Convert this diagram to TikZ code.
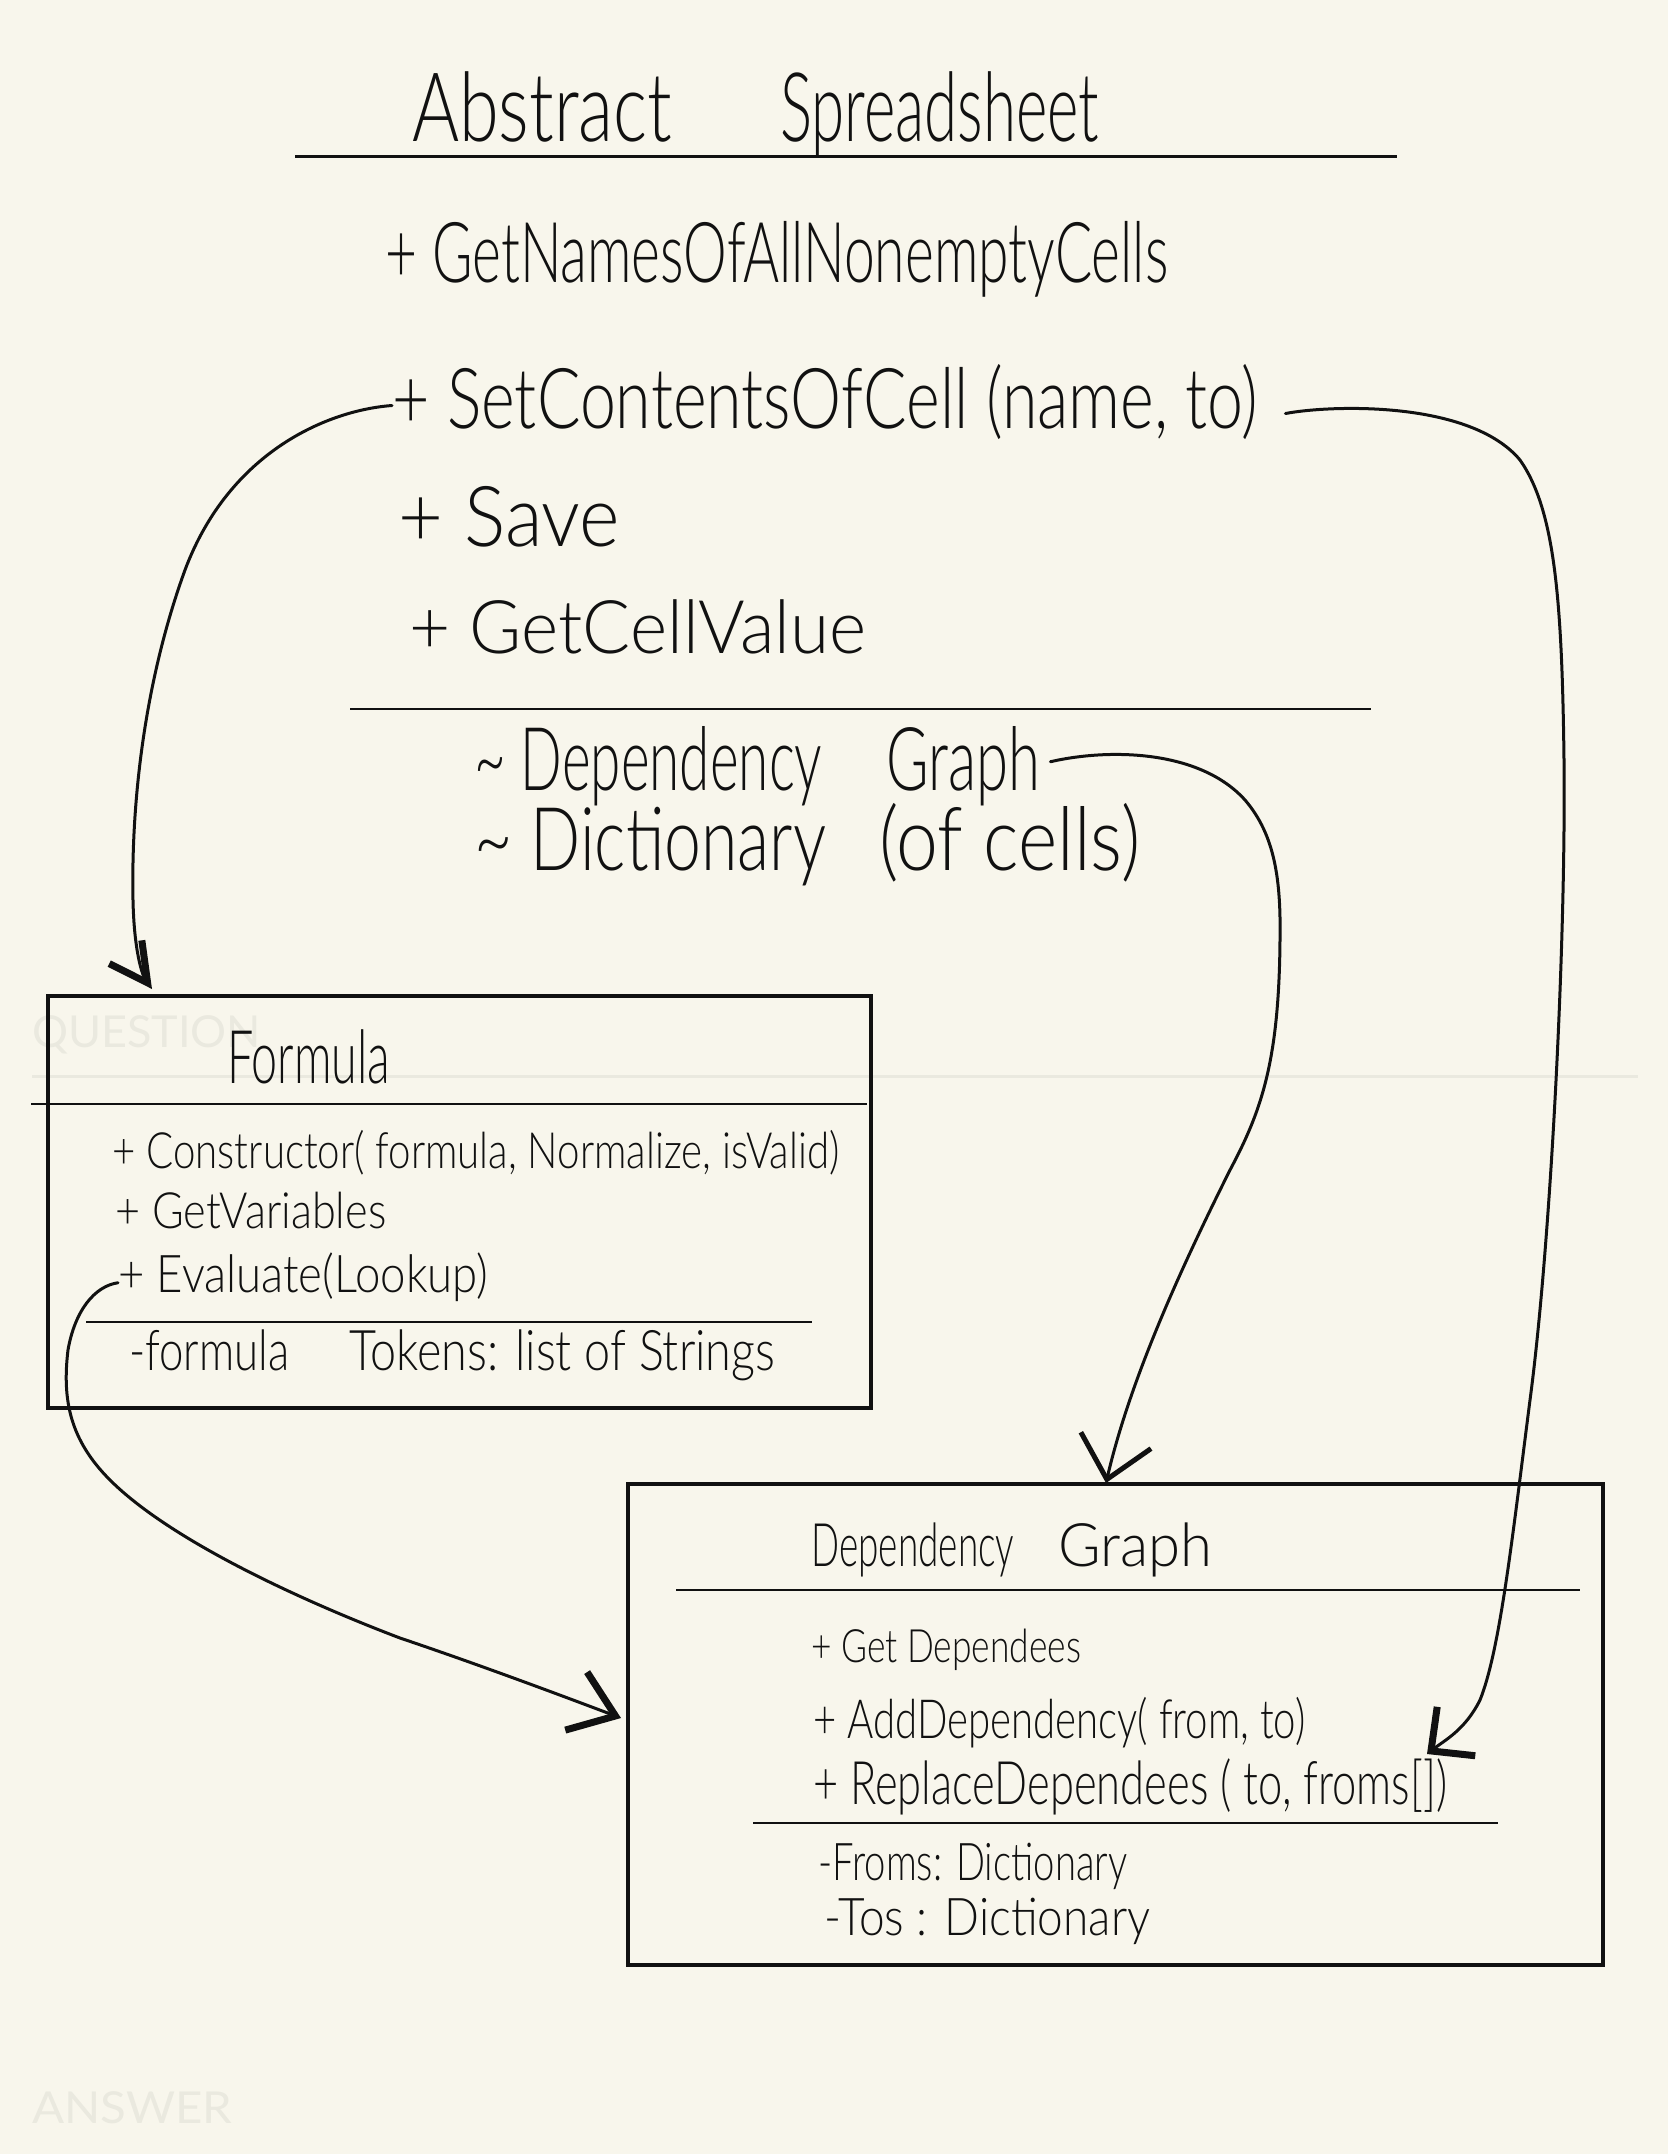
\documentclass[tikz,border=0pt]{standalone}
\usepackage{graphicx}
\usepackage{fontspec}
\setmainfont{Lato}
\suppressfontnotfounderror=1
\def\handname{Lato}
\font\probeA="Lato Light" at 10pt
\ifx\probeA\nullfont
  \font\probeB="Fira Sans Light" at 10pt
  \ifx\probeB\nullfont
    \font\probeC="Open Sans Light" at 10pt
    \ifx\probeC\nullfont
      \font\probeD="DejaVu Sans ExtraLight" at 10pt
      \ifx\probeD\nullfont\else\def\handname{DejaVu Sans ExtraLight}\fi
    \else\def\handname{Open Sans Light}\fi
  \else\def\handname{Fira Sans Light}\fi
\else\def\handname{Lato Light}\fi
\suppressfontnotfounderror=0
\expandafter\newfontfamily\expandafter\handfont\expandafter{\handname}
\usetikzlibrary{arrows.meta}
\definecolor{paper}{RGB}{248,246,236}
\definecolor{ghost}{RGB}{234,233,223}
\definecolor{ink}{RGB}{17,17,17}
\newcommand\fitwidth[3]{\resizebox{#1pt}{\height}{\handfont\fontsize{#2}{#2}\selectfont #3}}
\newcommand\plainfit[3]{\resizebox{#1pt}{\height}{\fontsize{#2}{#2}\selectfont #3}}
\begin{document}
\begin{tikzpicture}[x=1pt,y=-1pt,
  txt/.style={anchor=base west,inner sep=0pt,text=ink},
  wm/.style={anchor=base west,inner sep=0pt,text=ghost},
  umlbox/.style={draw=ink,line width=3.5pt,inner sep=0pt},
  sepline/.style={draw=ink,line width=2.5pt},
  conn/.style={draw=ink,line width=3pt,line cap=round,line join=round}]
% page
\fill[paper] (0,0) rectangle (1668,2154);
\useasboundingbox (0,0) rectangle (1668,2154);
% watermark
\node[wm] (qmark) at (32,1047) {\plainfit{229}{44}{QUESTION}};
\node[wm] (amark) at (32,2123) {\plainfit{200}{44}{ANSWER}};
\draw[ghost,line width=3pt] (32,1076) -- (1638,1076);

% Abstract Spreadsheet
\node[txt] (title) at (412,142) {\fitwidth{260}{96}{Abstract}\hspace{108pt}\fitwidth{319}{96}{Spreadsheet}};
\draw[ink,line width=3pt] (295,157) -- (1397,157);
\node[txt] (getnames) at (385,282) {\fitwidth{783}{84}{+ GetNamesOfAllNonemptyCells}};
\node[txt] (setc) at (392,428) {\fitwidth{866}{84}{+ SetContentsOfCell (name, to)}};
\node[txt] (save) at (398,546) {\fitwidth{222}{84}{+ Save}};
\node[txt] (getval) at (409,653) {\fitwidth{457}{74}{+ GetCellValue}};
\draw[sepline] (350,709) -- (1371,709);
\node[txt] (dgref) at (474,790) {\fitwidth{348}{88}{\textasciitilde{} Dependency}\hspace{64pt}\fitwidth{154}{88}{Graph}};
\node[txt] (dict) at (474,870) {\fitwidth{352}{88}{\textasciitilde{} Dictionary}\hspace{53pt}\fitwidth{261}{88}{(of cells)}};

% Formula box
\node[umlbox,minimum width=823pt,minimum height=412pt] (formula) at (459.5,1202) {};
\node[txt] (ftitle) at (227,1083) {\fitwidth{163}{74}{Formula}};
\draw[sepline] (31,1104) -- (867,1104);
\node[txt] (ctor) at (112,1168) {\fitwidth{727}{50}{+ Constructor( formula, Normalize, isValid)}};
\node[txt] (getvars) at (115,1228) {\fitwidth{271}{50}{+ GetVariables}};
\node[txt] (eval) at (118,1292) {\fitwidth{370}{52}{+ Evaluate(Lookup)}};
\draw[sepline] (86,1322) -- (812,1322);
\node[txt] (tokens) at (129,1370) {\fitwidth{160}{56}{-formula}\hspace{60pt}\fitwidth{426}{56}{Tokens: list of Strings}};

% Dependency Graph box
\node[umlbox,minimum width=975pt,minimum height=481pt] (dg) at (1115.5,1724.5) {};
\node[txt] (dgtitle) at (811,1566) {\fitwidth{203}{60}{Dependency}\hspace{44pt}\fitwidth{154}{60}{Graph}};
\draw[sepline] (676,1590) -- (1580,1590);
\node[txt] (getdep) at (811,1662) {\fitwidth{270}{46}{+ Get Dependees}};
\node[txt] (adddep) at (813,1738) {\fitwidth{492}{54}{+ AddDependency( from, to)}};
\node[txt] (repdep) at (813,1804) {\fitwidth{634}{60}{+ ReplaceDependees ( to, froms[])}};
\draw[sepline] (753,1823) -- (1498,1823);
\node[txt] (froms) at (818,1880) {\fitwidth{309}{52}{-Froms: Dictionary}};
\node[txt] (tos) at (824,1935) {\fitwidth{326}{52}{-Tos : Dictionary}};

% arrow tips
\coordinate (tipF) at (152,989);
\coordinate (tipA) at (1427,1754);
\coordinate (tipD) at (1106,1483);
\coordinate (tipE) at (621,1718);

% connectors
\draw[conn,-{Straight Barb[length=38pt,width=40pt,line width'=7pt]}]
  ([yshift=-4pt]setc.west) .. controls (330,410) and (230,450) .. (185,570)
  .. controls (145,680) and (131,800) .. (133,900)
  .. controls (134,950) and (142,975) .. (tipF);
\draw[conn,-{Straight Barb[length=32pt,width=62pt,line width'=7pt]}]
  ([xshift=27pt,yshift=-12pt]setc.east) .. controls (1330,405) and (1470,400) .. (1520,460)
  .. controls (1555,510) and (1562,600) .. (1564,760)
  .. controls (1566,950) and (1550,1250) .. (1530,1400)
  .. controls (1512,1540) and (1500,1650) .. (1480,1700)
  .. controls (1465,1730) and (1445,1740) .. (tipA);
\draw[conn,-{Straight Barb[length=40pt,width=72pt,line width'=5pt]}]
  ([xshift=10pt,yshift=4pt]dgref.east) .. controls (1110,748) and (1200,750) .. (1245,800)
  .. controls (1275,835) and (1281,880) .. (1280,940)
  .. controls (1279,1060) and (1262,1110) .. (1230,1170)
  .. controls (1180,1270) and (1130,1380) .. (tipD);
\draw[conn,-{Straight Barb[length=42pt,width=62pt,line width'=7pt]}]
  ([yshift=-6pt]eval.west) .. controls (95,1286) and (75,1310) .. (68,1350)
  .. controls (62,1400) and (70,1440) .. (110,1480)
  .. controls (170,1540) and (300,1600) .. (400,1638)
  .. controls (480,1665) and (560,1695) .. (tipE);
\end{tikzpicture}
\end{document}
